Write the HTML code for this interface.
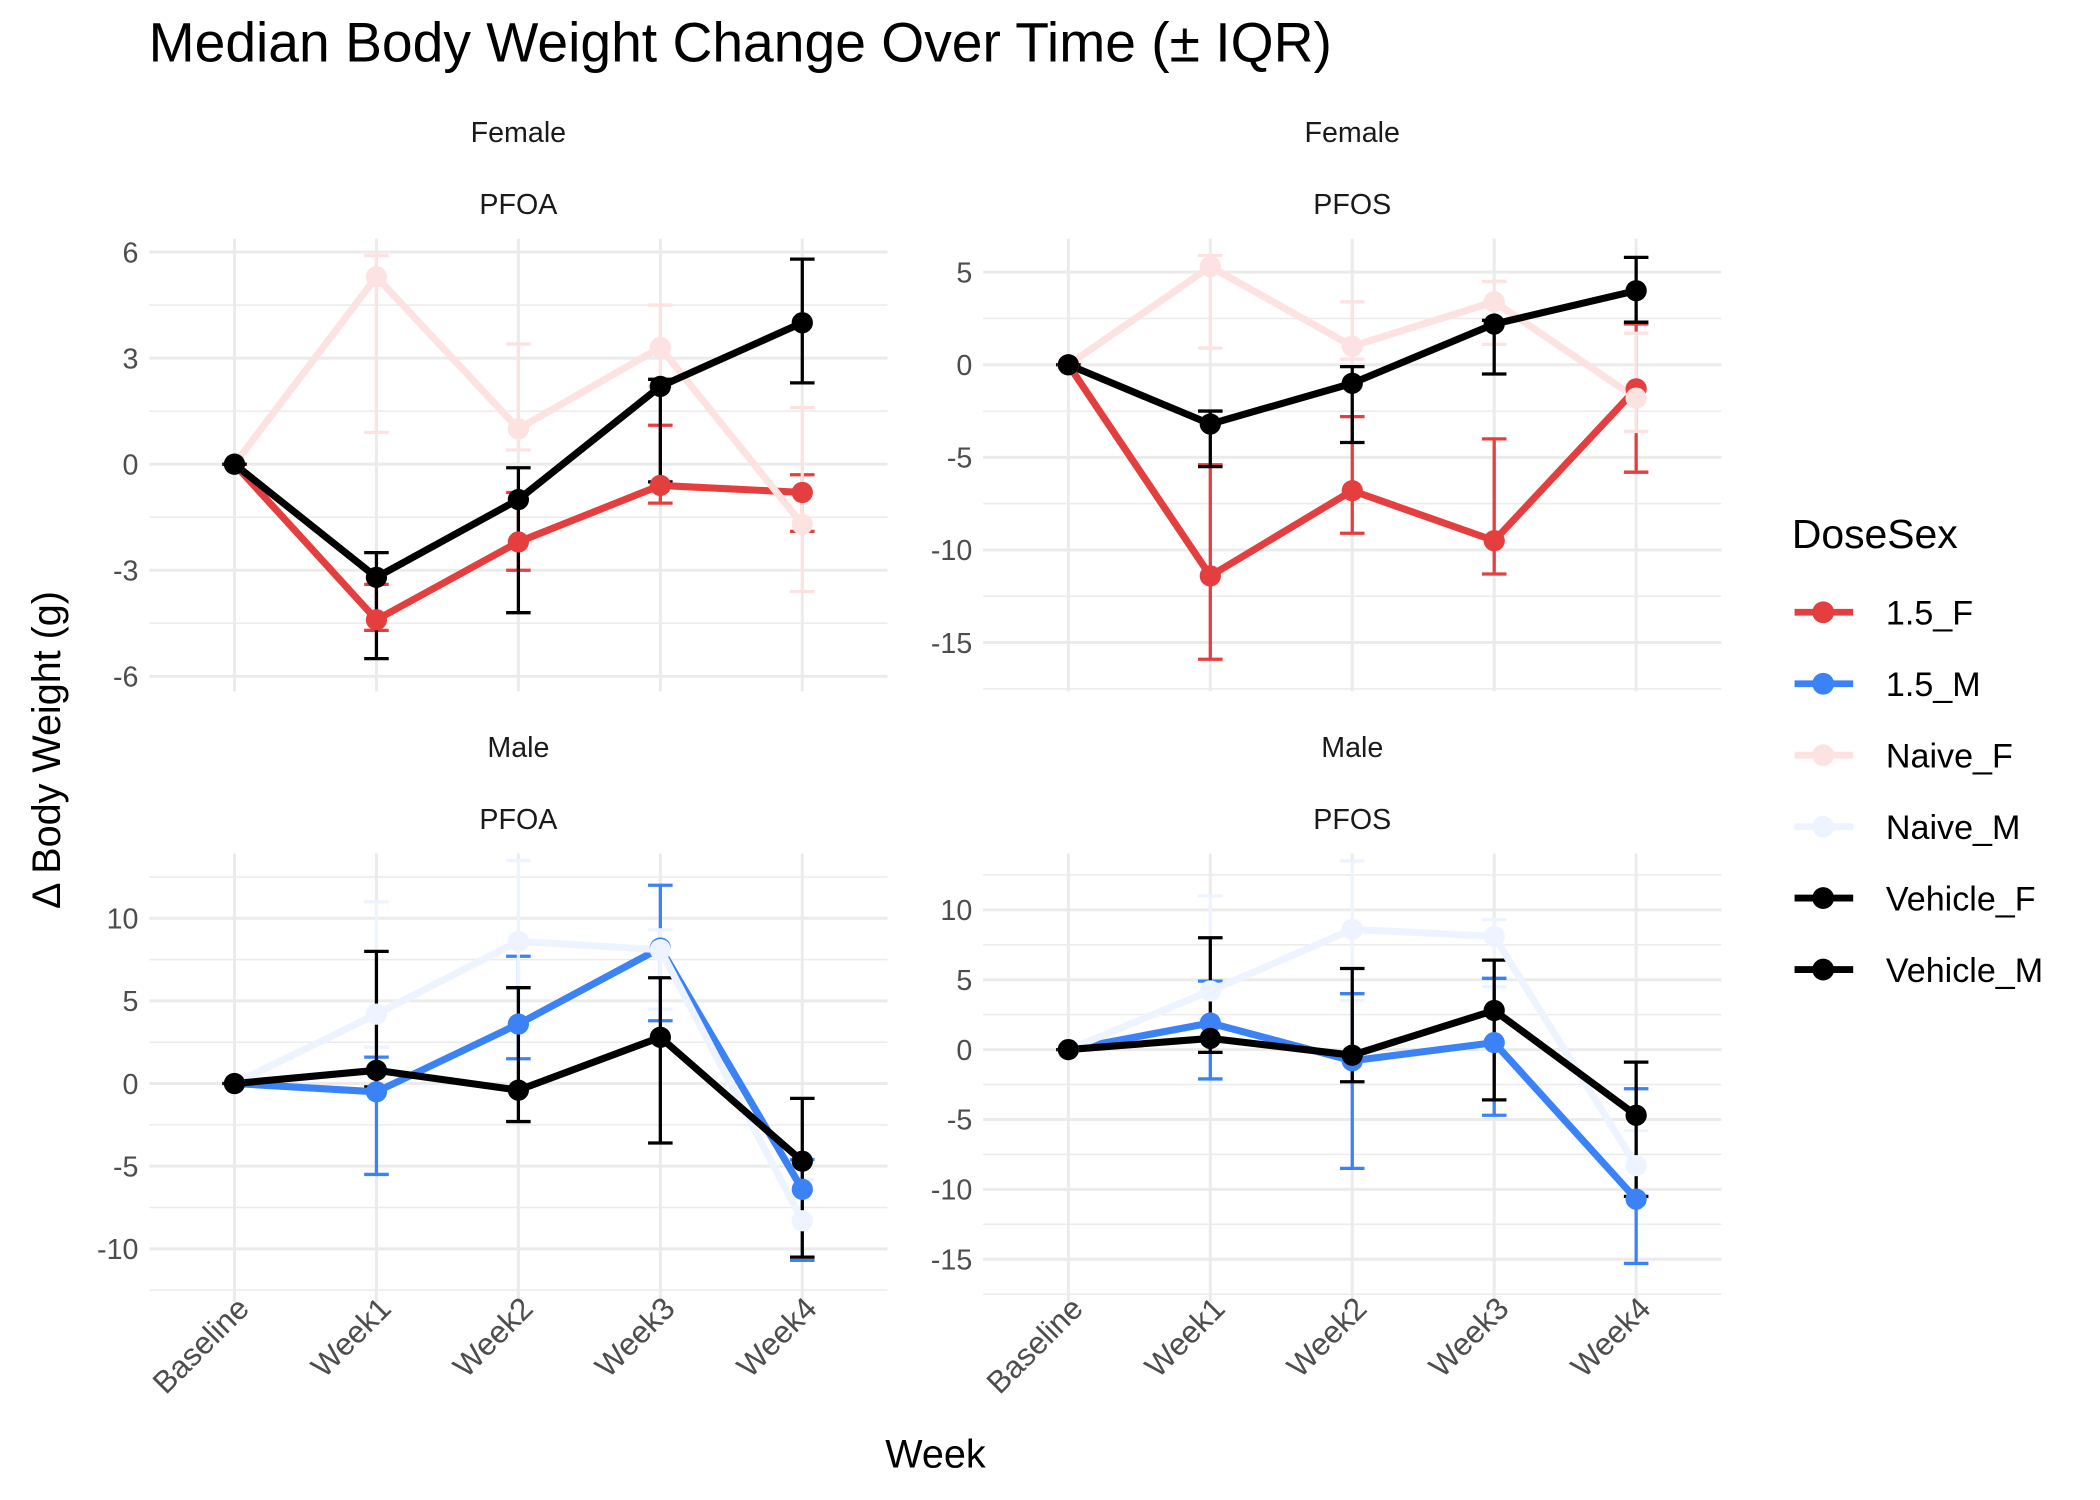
<!DOCTYPE html>
<html><head><meta charset="utf-8"><style>
html,body{margin:0;padding:0;background:#fff}
svg{display:block;font-family:"Liberation Sans",sans-serif}
</style></head><body>
<svg id="chart" width="2100" height="1500" viewBox="0 0 1540 1100" preserveAspectRatio="none" xmlns="http://www.w3.org/2000/svg">
<rect width="1540" height="1100" fill="#fff"/>
<text x="109" y="45" font-size="40.5" fill="#000">Median Body Weight Change Over Time (± IQR)</text>
<text x="686" y="1076" font-size="29" text-anchor="middle" fill="#000">Week</text>
<text transform="translate(44,550) rotate(-90)" font-size="29" text-anchor="middle" fill="#000">Δ Body Weight (g)</text>
<g id="panels"></g>
<g id="legend"></g>
</svg>
<script>
const weeks = ["Baseline","Week1","Week2","Week3","Week4"];
const groups = ["1.5_F","1.5_M","Naive_F","Naive_M","Vehicle_F","Vehicle_M"];
const colors = {"1.5_F":"#E53E3E","1.5_M":"#3B82F6","Naive_F":"#FDE2E2","Naive_M":"#EEF4FF","Vehicle_F":"#000000","Vehicle_M":"#000000"};

// Female PFOA
const fPfoaNaiveF = [0,5.3,1.0,3.3,-1.7];
const fPfoaNaiveFLo = [0,0.9,0.4,2.2,-3.6];
const fPfoaNaiveFHi = [0,5.9,3.4,4.5,1.6];
const fPfoa15F = [0,-4.4,-2.2,-0.6,-0.8];
const fPfoa15FLo = [0,-4.7,-3.0,-1.1,-1.9];
const fPfoa15FHi = [0,-3.4,-0.8,1.1,-0.3];
const fPfoaVehF = [0,-3.2,-1.0,2.2,4.0];
const fPfoaVehFLo = [0,-5.5,-4.2,-0.5,2.3];
const fPfoaVehFHi = [0,-2.5,-0.1,2.4,5.8];
// Female PFOS
const fPfosNaiveF = [0,5.3,1.0,3.4,-1.8];
const fPfosNaiveFLo = [0,0.9,0.3,1.1,-3.6];
const fPfosNaiveFHi = [0,5.9,3.4,4.5,1.7];
const fPfos15F = [0,-11.4,-6.8,-9.5,-1.3];
const fPfos15FLo = [0,-15.9,-9.1,-11.3,-5.8];
const fPfos15FHi = [0,-5.4,-2.8,-4.0,2.2];
const fPfosVehF = [0,-3.2,-1.0,2.2,4.0];
const fPfosVehFLo = [0,-5.5,-4.2,-0.5,2.3];
const fPfosVehFHi = [0,-2.5,-0.1,2.4,5.8];
// Male PFOA
const mPfoaNaiveM = [0,4.2,8.6,8.1,-8.3];
const mPfoaNaiveMLo = [0,2.2,3.5,4.5,-10.5];
const mPfoaNaiveMHi = [0,11.0,13.5,9.3,-5.8];
const mPfoa15M = [0,-0.5,3.6,8.2,-6.4];
const mPfoa15MLo = [0,-5.5,1.5,3.8,-10.7];
const mPfoa15MHi = [0,1.6,7.7,12.0,-4.6];
const mPfoaVehM = [0,0.8,-0.4,2.8,-4.7];
const mPfoaVehMLo = [0,-0.2,-2.3,-3.6,-10.5];
const mPfoaVehMHi = [0,8.0,5.8,6.4,-0.9];
// Male PFOS
const mPfosNaiveM = [0,4.2,8.6,8.1,-8.3];
const mPfosNaiveMLo = [0,2.2,3.5,4.5,-10.5];
const mPfosNaiveMHi = [0,11.0,13.5,9.3,-5.8];
const mPfos15M = [0,1.9,-0.8,0.5,-10.7];
const mPfos15MLo = [0,-2.1,-8.5,-4.7,-15.3];
const mPfos15MHi = [0,4.9,4.0,5.1,-2.8];
const mPfosVehM = [0,0.8,-0.4,2.8,-4.7];
const mPfosVehMLo = [0,-0.2,-2.3,-3.6,-10.5];
const mPfosVehMHi = [0,8.0,5.8,6.4,-0.9];

const ticksTop1 = [-6,-3,0,3,6];
const ticksTop2 = [-15,-10,-5,0,5];
const ticksBot1 = [-10,-5,0,5,10];
const ticksBot2 = [-15,-10,-5,0,5,10];

const NS="http://www.w3.org/2000/svg";
function mk(tag,attrs,parent){const e=document.createElementNS(NS,tag);for(const k in attrs)e.setAttribute(k,attrs[k]);parent.appendChild(e);return e;}

const panelsDef = [
 {name:"female-pfoa",sex:"Female",chem:"PFOA",x0:109.5,x1:650.8,y0:175,y1:507,ref:[0,340.4],unit:25.93,ticks:ticksTop1,showX:false,
  series:[["1.5_F",fPfoa15F,fPfoa15FLo,fPfoa15FHi],["Naive_F",fPfoaNaiveF,fPfoaNaiveFLo,fPfoaNaiveFHi],["Vehicle_F",fPfoaVehF,fPfoaVehFLo,fPfoaVehFHi]]},
 {name:"female-pfos",sex:"Female",chem:"PFOS",x0:721,x1:1262.3,y0:175,y1:507,ref:[0,267.5],unit:13.58,ticks:ticksTop2,showX:false,
  series:[["1.5_F",fPfos15F,fPfos15FLo,fPfos15FHi],["Naive_F",fPfosNaiveF,fPfosNaiveFLo,fPfosNaiveFHi],["Vehicle_F",fPfosVehF,fPfosVehFLo,fPfosVehFHi]]},
 {name:"male-pfoa",sex:"Male",chem:"PFOA",x0:109.5,x1:650.8,y0:626,y1:955,ref:[0,794.6],unit:12.12,ticks:ticksBot1,showX:true,
  series:[["1.5_M",mPfoa15M,mPfoa15MLo,mPfoa15MHi],["Naive_M",mPfoaNaiveM,mPfoaNaiveMLo,mPfoaNaiveMHi],["Vehicle_M",mPfoaVehM,mPfoaVehMLo,mPfoaVehMHi]]},
 {name:"male-pfos",sex:"Male",chem:"PFOS",x0:721,x1:1262.3,y0:626,y1:955,ref:[0,769.7],unit:10.25,ticks:ticksBot2,showX:true,
  series:[["1.5_M",mPfos15M,mPfos15MLo,mPfos15MHi],["Naive_M",mPfosNaiveM,mPfosNaiveMLo,mPfosNaiveMHi],["Vehicle_M",mPfosVehM,mPfosVehMLo,mPfosVehMHi]]}
];
const root=document.getElementById("panels");
panelsDef.forEach(p=>{
  const g=mk("g",{},root);
  
  
  const xs=(i)=>{const span=(p.x1-p.x0)/(weeks.length-1+1.2);return p.x0+span*0.6+i*span;};
  const ys=(v)=>p.ref[1]-v*p.unit;
  const cx=(p.x0+p.x1)/2;
  const st1=mk("text",{x:cx,y:p.y0-71,"font-size":"21","text-anchor":"middle",fill:"#1a1a1a"},g);st1.textContent=p.sex;
  
  
  const st2=mk("text",{x:cx,y:p.y0-18,"font-size":"21","text-anchor":"middle",fill:"#1a1a1a"},g);st2.textContent=p.chem;
  
  
  const step=p.ticks[1]-p.ticks[0];
  const tmax=p.ticks[p.ticks.length-1]+step;
  for(let v=p.ticks[0]-step/2; v<=tmax; v+=step){const y=ys(v); if(y>=p.y0&&y<=p.y1){const l=mk("line",{x1:p.x0,x2:p.x1,y1:y,y2:y,stroke:"#ebebeb","stroke-width":"1.1"},g);}}
  p.ticks.forEach(t=>{const y=ys(t);
    const l=mk("line",{x1:p.x0,x2:p.x1,y1:y,y2:y,stroke:"#ebebeb","stroke-width":"2.2"},g);
    
    
    const tx=mk("text",{x:p.x0-8,y:y+7.5,"font-size":"21","text-anchor":"end",fill:"#4d4d4d"},g);tx.textContent=t;
    
    
  });
  weeks.forEach((w,i)=>{const x=xs(i);
    const l=mk("line",{x1:x,x2:x,y1:p.y0,y2:p.y1,stroke:"#ebebeb","stroke-width":"2.2"},g);
    
    
    if(p.showX){const t=mk("text",{transform:`translate(${x+12},${p.y1+6}) rotate(-45)`,"font-size":"23","text-anchor":"end",fill:"#4d4d4d"},g);t.textContent=w;
      
      }
  });
  p.series.forEach(s=>{const c=colors[s[0]];s[1].forEach((v,i)=>{const x=xs(i),yl=ys(s[2][i]),yh=ys(s[3][i]);
    const eb=mk("path",{d:`M${x-9},${yh}H${x+9}M${x},${yh}V${yl}M${x-9},${yl}H${x+9}`,stroke:c,"stroke-width":"2.4",fill:"none"},g);
    
    });});
  p.series.forEach(s=>{const c=colors[s[0]];
    const ln=mk("polyline",{points:s[1].map((v,i)=>xs(i)+","+ys(v)).join(" "),stroke:c,"stroke-width":"5.2",fill:"none","stroke-linejoin":"round"},g);
    
    });
  p.series.forEach(s=>{const c=colors[s[0]];s[1].forEach((v,i)=>{
    const pt=mk("circle",{cx:xs(i),cy:ys(v),r:"7.8",fill:c},g);
    
    });});
});
const lg=document.getElementById("legend");
const lt=mk("text",{x:1314,y:402,"font-size":"30",fill:"#000"},lg);lt.textContent="DoseSex";


groups.forEach((gname,i)=>{const y=449+i*52.4;
  const e=mk("g",{},lg);
  
  
  mk("line",{x1:1316,x2:1359,y1:y,y2:y,stroke:colors[gname],"stroke-width":"5"},e);
  mk("circle",{cx:1337,cy:y,r:"8",fill:colors[gname]},e);
  const t=mk("text",{x:1383,y:y+9,"font-size":"25",fill:"#000"},e);t.textContent=gname;
});
</script>
</body></html>
